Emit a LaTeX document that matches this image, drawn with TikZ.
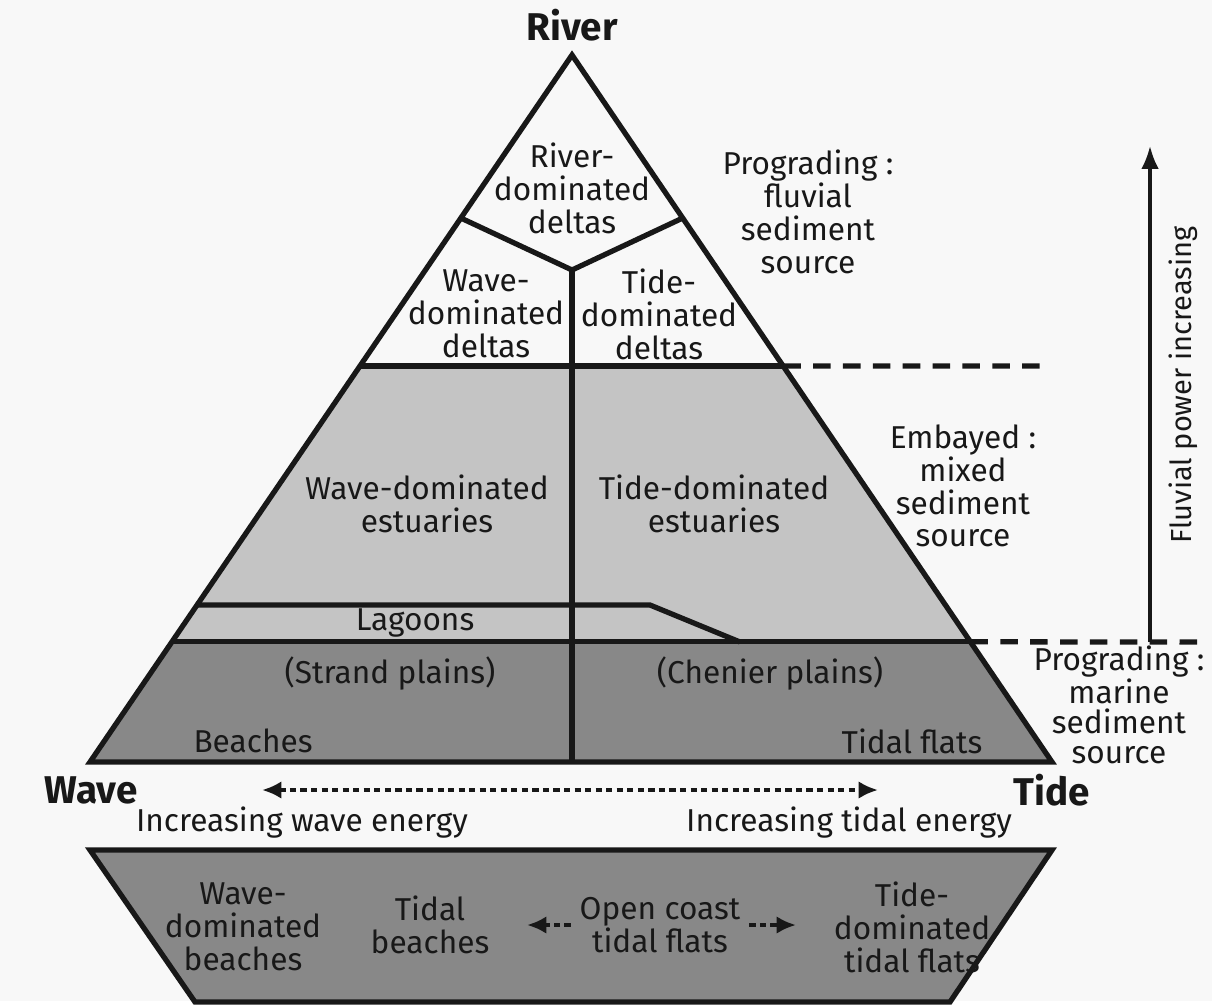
\documentclass[tikz,border=0pt]{standalone}
\usepackage{fontspec}
\setmainfont{Fira Sans}
\usetikzlibrary{arrows.meta,calc}

\definecolor{bgpaper}{RGB}{248,248,248}
\definecolor{lightband}{RGB}{196,196,196}
\definecolor{darkband}{RGB}{136,136,136}
\definecolor{inkgrey}{RGB}{24,24,24}

\begin{document}
\begin{tikzpicture}[x=0.02cm,y=-0.02cm,
	zonetext/.style={align=center, font=\fontsize{18}{18.7}\selectfont, text=inkgrey, inner sep=0pt},
	endmember/.style={font=\fontsize{22}{24}\selectfont\bfseries, text=inkgrey, inner sep=0pt},
	border/.style={line width=3pt, draw=inkgrey, line join=miter},
	limit/.style={line width=3pt, draw=inkgrey, dash pattern=on 10pt off 7pt},
	trend/.style={line width=2.2pt, draw=inkgrey, dash pattern=on 3.5pt off 2.5pt},
	]
	% page
	\fill[bgpaper] (0,0) rectangle (1212,1001);
	
	% ternary triangle
	\coordinate (apex) at (572,55);
	\coordinate (bl) at (90,762);
	\coordinate (br) at (1052,762);
	\coordinate (dl) at ($(apex)!0.44!(bl)$);
	\coordinate (dr) at ($(apex)!0.44!(br)$);
	\coordinate (el) at ($(apex)!0.83!(bl)$);
	\coordinate (er) at ($(apex)!0.83!(br)$);
	\coordinate (ll) at ($(apex)!0.778!(bl)$);
	\coordinate (lk) at (650,605);
	\coordinate (lm) at (740,642);
	\coordinate (yl) at ($(apex)!0.2306!(bl)$);
	\coordinate (yr) at ($(apex)!0.2306!(br)$);
	\coordinate (yc) at (572,270);
	\coordinate (mb) at (572,762);
	
	\fill[darkband] (el) -- (er) -- (br) -- (bl) -- cycle;
	\fill[lightband] (dl) -- (dr) -- (er) -- (el) -- cycle;
	\draw[border] (dl) -- (dr);
	\draw[border] (el) -- (er);
	\draw[border] (ll) -- (lk) -- (lm);
	\draw[border] (yl) -- (yc) -- (yr);
	\draw[border] (yc) -- (mb);
	\draw[border] (apex) -- (br) -- (bl) -- cycle;
	
	% limits between the three settings
	\coordinate (dlim) at (1040,366);
	\coordinate (elim) at (1206,642);
	\draw[limit] (dr) -- (dlim);
	\draw[limit] (er) -- (elim);
	
	% end members
	\node[endmember] (river) at (572,25) {River};
	\node[endmember] (wave) at (91,790) {Wave};
	\node[endmember] (tide) at (1052,790) {Tide};
	
	% zones
	\node[zonetext] (rdd) at (572,188) {River-\\dominated\\deltas};
	\node[zonetext] (wdd) at (486,314) {Wave-\\dominated\\deltas};
	\node[zonetext] (tdd) at (659,314) {Tide-\\dominated\\deltas};
	\node[zonetext] (wde) at (427,504) {Wave-dominated\\estuaries};
	\node[zonetext] (tde) at (714,504) {Tide-dominated\\estuaries};
	\node[zonetext] (lag) at (415,623) {Lagoons};
	\node[zonetext] (strand) at (390,673) {(Strand plains)};
	\node[zonetext] (chenier) at (770,673) {(Chenier plains)};
	\node[zonetext] (beach) at (253,741) {Beaches};
	\node[zonetext] (tflat) at (912,741) {Tidal flats};
	
	% settings
	\node[zonetext] (progF) at (808,212) {Prograding :\\fluvial\\sediment\\source};
	\node[zonetext] (emb) at (963,486) {Embayed :\\mixed\\sediment\\source};
	\node[zonetext, font=\fontsize{18}{17.2}\selectfont] (progM) at (1119,705) {Prograding :\\marine\\sediment\\source};
	
	% fluvial power
	\coordinate (fpLow) at (1150,642);
	\coordinate (fpHigh) at (1150,146);
	\draw[line width=1.8pt, draw=inkgrey, -{Latex[length=13pt,width=10pt]}] (fpLow) -- (fpHigh);
	\node[zonetext, font=\fontsize{16.5}{18}\selectfont, rotate=90] (fp) at (1183,385) {Fluvial power increasing};
	
	% wave -- tide energy
	\coordinate (enL) at (262,790);
	\coordinate (enR) at (878,790);
	\draw[trend, {Latex[length=11pt,width=10pt]}-{Latex[length=11pt,width=10pt]}] (enL) -- (enR);
	\node[zonetext] (incW) at (302,823) {Increasing wave energy};
	\node[zonetext] (incT) at (849,823) {Increasing tidal energy};
	
	% open coast classes
	\coordinate (tl) at (90,850);
	\coordinate (tr) at (1052,850);
	\coordinate (bR) at (950,1002);
	\coordinate (bL) at (195,1002);
	\fill[darkband] (tl) -- (tr) -- (bR) -- (bL) -- cycle;
	\draw[border] (tl) -- (tr) -- (bR) -- (bL) -- cycle;
	
	\node[zonetext] (wdb) at (243,927) {Wave-\\dominated\\beaches};
	\node[zonetext] (tb) at (430,925) {Tidal\\beaches};
	\node[zonetext] (oc) at (660,925) {Open coast\\tidal flats};
	\node[zonetext] (tdf) at (912,927) {Tide-\\dominated\\tidal flats};
	\coordinate (ocL) at (527,925);
	\coordinate (ocR) at (796,925);
	\draw[trend, -{Latex[length=11pt,width=10pt]}] ([xshift=-5pt]oc.west) -- (ocL);
	\draw[trend, -{Latex[length=11pt,width=10pt]}] ([xshift=5pt]oc.east) -- (ocR);
\end{tikzpicture}
\end{document}
